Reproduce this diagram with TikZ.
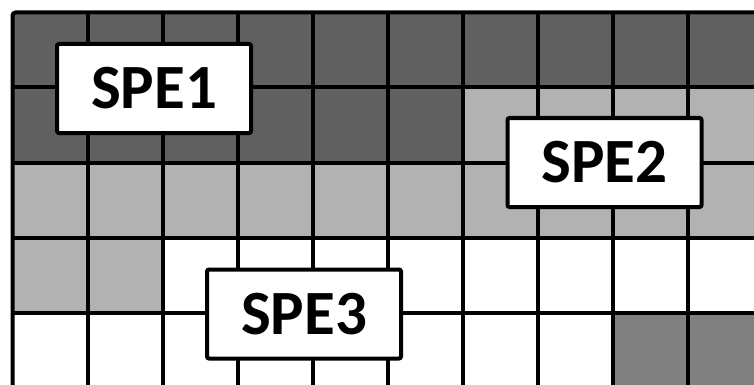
\documentclass[tikz,border=0pt]{standalone}
\usepackage{fontspec}
\setmainfont{Carlito}
\definecolor{cdark}{RGB}{96,96,96}
\definecolor{clight}{RGB}{178,178,178}
\definecolor{cmid}{RGB}{128,128,128}
\begin{document}
\begin{tikzpicture}[x=1pt,y=-1pt,
  gridline/.style={draw=black, line width=4pt},
  lbl/.style={draw=black, line width=4pt, fill=white, rounded corners=2pt,
    minimum width=194pt, minimum height=89pt, inner sep=0pt,
    font=\fontsize{63}{63}\selectfont\bfseries}]
\useasboundingbox (0,0) rectangle (754,385);
\clip (0,0) rectangle (754,385);
% cell fills
\fill[cdark] (12.5,12.5) rectangle (762.5,87.5);
\fill[cdark] (12.5,87.5) rectangle (462.5,162.5);
\fill[clight] (462.5,87.5) rectangle (762.5,162.5);
\fill[clight] (12.5,162.5) rectangle (762.5,237.5);
\fill[clight] (12.5,237.5) rectangle (162.5,312.5);
\fill[white] (162.5,237.5) rectangle (762.5,312.5);
\fill[white] (12.5,312.5) rectangle (612.5,387.5);
\fill[cmid] (612.5,312.5) rectangle (762.5,387.5);
% grid lines
\foreach \i in {1,...,9} \draw[gridline] ({12.5+75*\i},12.5) -- ({12.5+75*\i},387.5);
\foreach \j in {1,...,4} \draw[gridline] (12.5,{12.5+75*\j}) -- (762.5,{12.5+75*\j});
\draw[gridline, rounded corners=3pt] (12.5,12.5) rectangle (762.5,387.5);
% labels
\node[lbl] (spe1) at (154,88.5) {SPE1};
\node[lbl] (spe2) at (604.5,162.5) {SPE2};
\node[lbl] (spe3) at (304,314) {SPE3};
\end{tikzpicture}
\end{document}
